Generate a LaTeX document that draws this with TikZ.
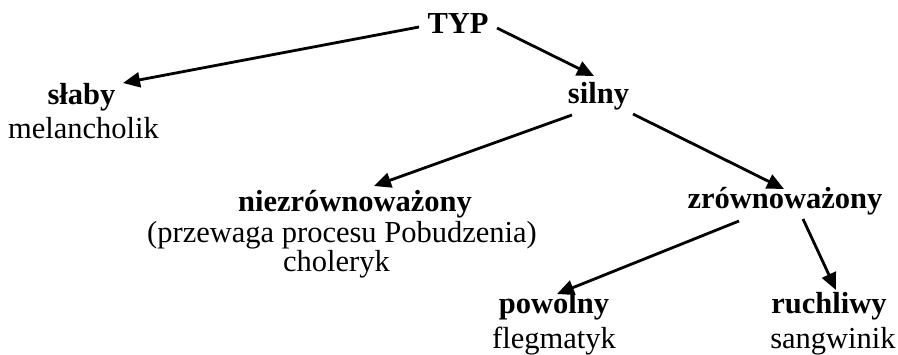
\documentclass[tikz,border=0pt]{standalone}
\usepackage{fontspec}
\setmainfont{Liberation Serif}
\usetikzlibrary{arrows.meta}
\begin{document}
\begin{tikzpicture}[x=1pt,y=-1pt,
  lbl/.style={anchor=base,inner sep=0pt,font=\fontsize{30.5}{34}\selectfont},
  hd/.style={lbl,font=\fontsize{30.5}{34}\selectfont\bfseries},
  arr/.style={line width=2.8pt,-{Triangle[length=17pt,width=15pt]}}]
\useasboundingbox (0,0) rectangle (898,354);
% nodes
\node[hd] (typ) at (458,33) {TYP};
\node[hd] (slaby) at (81.5,104) {słaby};
\node[lbl] (melan) at (83.5,138) {melancholik};
\node[hd] (silny) at (598.5,103) {silny};
\node[hd] (niez) at (355,211) {niezrównoważony};
\node[lbl] (przew) at (342,242) {(przewaga procesu Pobudzenia)};
\node[lbl] (chol) at (336.5,271) {choleryk};
\node[hd] (zrow) at (785,208) {zrównoważony};
\node[hd] (powol) at (554,313) {powolny};
\node[lbl] (flegm) at (554,348) {flegmatyk};
\node[hd] (ruch) at (829,313) {ruchliwy};
\node[lbl] (sang) at (833,348) {sangwinik};
% connector end points
\coordinate (typ-l) at (419,27);
\coordinate (typ-r) at (497,28);
\coordinate (slaby-in) at (123,83);
\coordinate (silny-in) at (594,76);
\coordinate (silny-l) at (572,115);
\coordinate (silny-r) at (633,114);
\coordinate (niez-in) at (374,186);
\coordinate (zrow-in) at (784,189);
\coordinate (zrow-l) at (739,221);
\coordinate (zrow-r) at (803,219);
\coordinate (powol-in) at (557,294);
\coordinate (ruch-in) at (836,290);
% connectors
\draw[arr] (typ-l) -- (slaby-in);
\draw[arr] (typ-r) -- (silny-in);
\draw[arr] (silny-l) -- (niez-in);
\draw[arr] (silny-r) -- (zrow-in);
\draw[arr] (zrow-l) -- (powol-in);
\draw[arr] (zrow-r) -- (ruch-in);
\end{tikzpicture}
\end{document}
